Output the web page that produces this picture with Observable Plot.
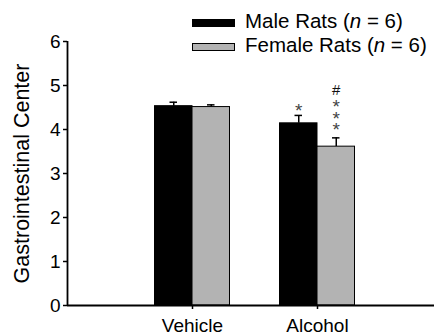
<!DOCTYPE html>
<html>
<head>
<meta charset="utf-8">
<script src="https://cdn.jsdelivr.net/npm/d3@7"></script>
<script src="https://cdn.jsdelivr.net/npm/@observablehq/plot@0.6"></script>
<style>
  html, body { margin: 0; padding: 0; background: #fff; }
  #wrap { position: relative; width: 434px; height: 335px; font-family: "Liberation Sans", Arial, sans-serif; }
  #legend { position: absolute; left: 0; top: 0; width: 434px; height: 60px; pointer-events: none; }
  .item { position: absolute; left: 192px; height: 22px; line-height: 22px; font-size: 20.5px; color: #000; white-space: nowrap; }
  .sw { position: absolute; left: 0; width: 43px; height: 8px; box-sizing: border-box; border: 1px solid #000; }
  .lab { position: absolute; left: 53px; top: 0; }
</style>
</head>
<body>
<div id="wrap">
  <div id="chart"></div>
  <div id="legend"></div>
</div>
<script>
// ---- data ----
const categories = ["Vehicle", "Alcohol"];
const series = ["Male Rats", "Female Rats"];
const seriesN = [6, 6];
const maleMean = [4.53, 4.14];
const maleSEM = [0.09, 0.18];
const femaleMean = [4.51, 3.61];
const femaleSEM = [0.05, 0.20];
const maleStars = [0, 1];
const femaleStars = [0, 3];
const maleHash = ["", ""];
const femaleHash = ["", "#"];
const yTicks = [0, 1, 2, 3, 4, 5, 6];
const yLabel = "Gastrointestinal Center";

const colors = ["#000000", "#b3b3b3"];
const FONT = '"Liberation Sans", Arial, sans-serif';

// ---- build table ----
const rows = [];
categories.forEach((c, i) => {
  rows.push({pos: i + 1, side: 0, sex: series[0], mean: maleMean[i], sem: maleSEM[i], stars: maleStars[i], hash: maleHash[i]});
  rows.push({pos: i + 1, side: 1, sex: series[1], mean: femaleMean[i], sem: femaleSEM[i], stars: femaleStars[i], hash: femaleHash[i]});
});
const barW = 0.3;
rows.forEach(r => {
  r.x1 = r.side === 0 ? r.pos - barW : r.pos;
  r.x2 = r.side === 0 ? r.pos : r.pos + barW;
  r.cx = (r.x1 + r.x2) / 2;
  r.top = r.mean + r.sem;
  r.starText = Array(r.stars).fill("*").join("\n");
});
const single = rows.filter(r => r.stars === 1);
const triple = rows.filter(r => r.stars === 3);
const hashed = rows.filter(r => r.hash);

const chart = Plot.plot({
  width: 434,
  height: 335,
  marginLeft: 67,
  marginRight: 0,
  marginTop: 41,
  marginBottom: 30,
  style: {fontFamily: FONT, fontSize: "19px", color: "#000", background: "#fff"},
  x: {domain: [0, 367 / 125]},
  y: {domain: [0, 6]},
  marks: [
    Plot.ruleX(rows, {x: "cx", y1: "mean", y2: "top", stroke: "#000", strokeWidth: 1.5}),
    Plot.ruleY(rows, {y: "top", x1: d => d.cx - 0.03, x2: d => d.cx + 0.03, stroke: "#000", strokeWidth: 1.5}),
    Plot.rect(rows, {x1: "x1", x2: "x2", y1: 0, y2: "mean", fill: d => colors[d.side], stroke: "#000", strokeWidth: 1}),
    Plot.text(single, {x: "cx", y: "top", text: "starText", dy: -4.8, lineAnchor: "middle", fontSize: 19, fill: "#444", fontFamily: FONT}),
    Plot.text(triple, {x: "cx", y: "top", text: "starText", dy: -16.9, lineAnchor: "middle", lineHeight: 0.6, fontSize: 19, fill: "#444", fontFamily: FONT}),
    Plot.text(hashed, {x: "cx", y: "top", text: "hash", dy: -48, lineAnchor: "middle", fontSize: 15, fill: "#111", fontFamily: FONT}),
    Plot.axisY({ticks: yTicks, tickFormat: "d", tickSize: 4, tickPadding: 3, fontSize: 19, strokeWidth: 1.5, label: null}),
    Plot.text([yLabel], {frameAnchor: "left", dx: -45, rotate: -90, textAnchor: "middle", lineAnchor: "middle", fontSize: 21.5, fontFamily: FONT, fill: "#000", text: d => d}),
    Plot.axisX({ticks: [1, 2], tickFormat: d => categories[d - 1], tickSize: 4, tickPadding: 8.5, fontSize: 19, strokeWidth: 1.5, label: null}),
    Plot.ruleY([0], {stroke: "#000", strokeWidth: 1.8}),
    Plot.ruleX([0], {stroke: "#000", strokeWidth: 1.8})
  ]
});
document.getElementById("chart").appendChild(chart);

// legend
const legend = document.getElementById("legend");
const tops = [9.5, 33.5];
series.forEach((s, i) => {
  const it = document.createElement("div");
  it.className = "item";
  it.style.top = tops[i] + "px";
  const sw = document.createElement("div");
  sw.className = "sw";
  sw.style.top = "9px";
  sw.style.background = colors[i];
  const lab = document.createElement("span");
  lab.className = "lab";
  lab.innerHTML = s + " (<i>n</i> = " + seriesN[i] + ")";
  it.appendChild(sw);
  it.appendChild(lab);
  legend.appendChild(it);
});
</script>
</body>
</html>
